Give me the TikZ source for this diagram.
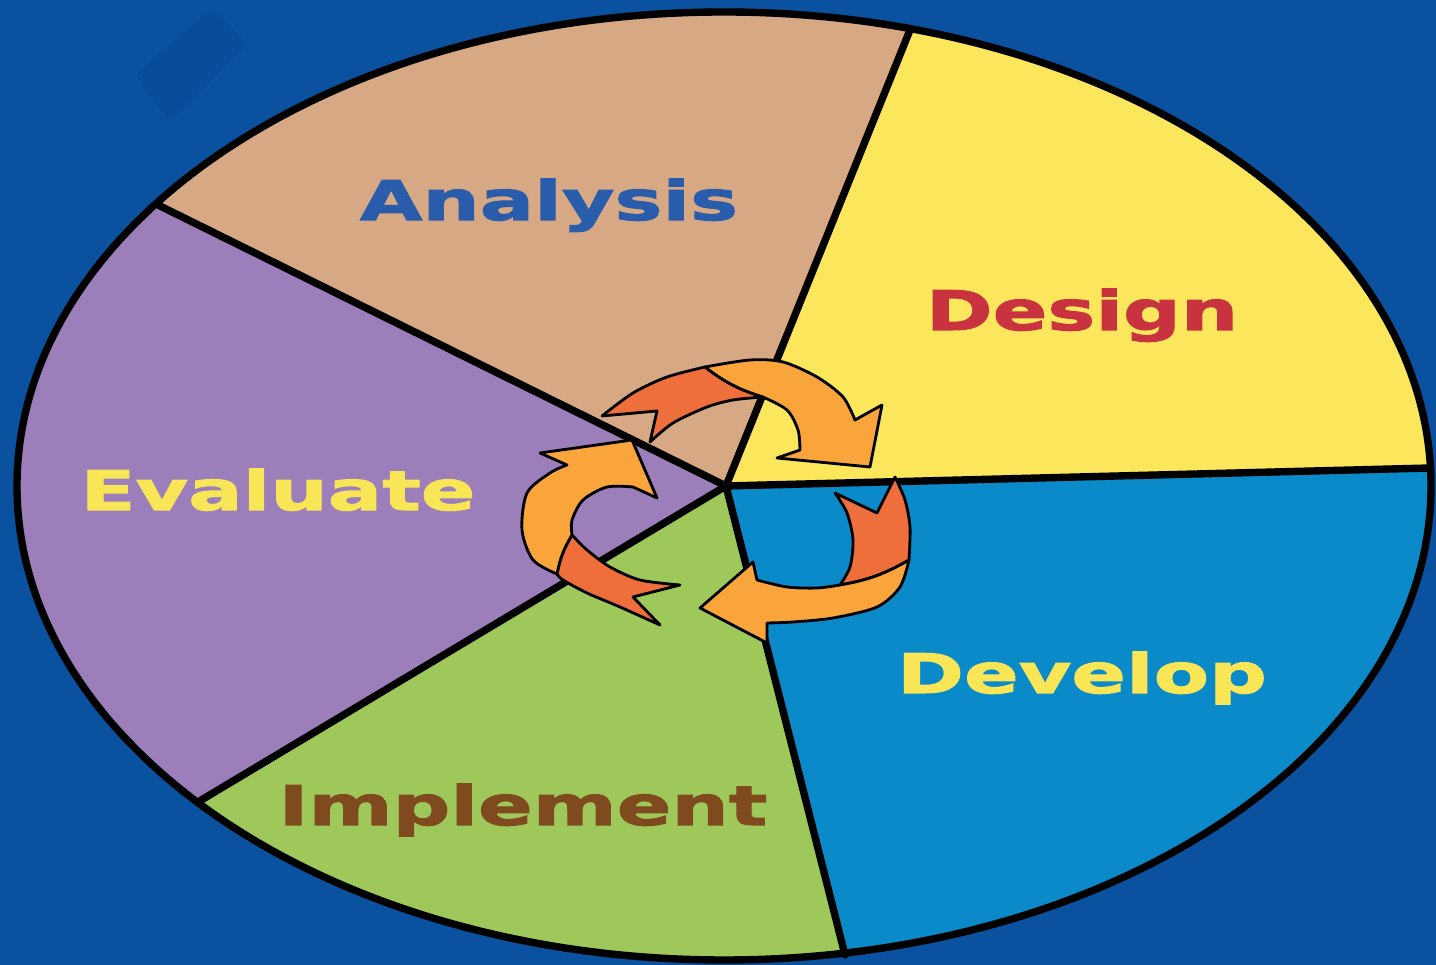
\documentclass[tikz,border=0pt]{standalone}
\usepackage{fontspec}
\usetikzlibrary{calc}
\newfontfamily\phasefont[FakeStretch=1.48,FakeBold=2]{DejaVu Sans}
\definecolor{bgblue}{RGB}{10,82,160}
\definecolor{bgshade}{RGB}{8,77,153}
\definecolor{tan}{RGB}{214,168,131}
\definecolor{sun}{RGB}{252,231,92}
\definecolor{sky}{RGB}{10,138,201}
\definecolor{leaf}{RGB}{159,200,90}
\definecolor{lilac}{RGB}{155,126,186}
\definecolor{inkblue}{RGB}{42,92,172}
\definecolor{inkred}{RGB}{201,50,63}
\definecolor{inkyellow}{RGB}{248,230,86}
\definecolor{inkbrown}{RGB}{126,74,30}
\definecolor{arrowgold}{RGB}{249,165,60}
\definecolor{arrowred}{RGB}{238,110,60}

\begin{document}
\begin{tikzpicture}[x=0.01cm,y=-0.01cm]
	\tikzstyle{Phase}=[font=\phasefont\bfseries\fontsize{15.5}{18}\selectfont,anchor=base,inner sep=0pt]
	\tikzstyle{Divider}=[line width=2.1pt]
	\tikzstyle{TailPart}=[fill=arrowred,draw=black,line width=0.8pt,line join=round]
	\tikzstyle{HeadPart}=[fill=arrowgold,draw=black,line width=0.8pt,line join=round]
	\useasboundingbox (0,0) rectangle (1436,965);
	\fill[bgblue] (0,0) rectangle (1436,965);
	\fill[bgshade] (135,75) -- (212,8) -- (246,44) -- (170,122) -- cycle;
	\coordinate (C) at (726,486);
	\coordinate (Ptop) at (910,30);
	\coordinate (Pright) at (1430,468);
	\coordinate (Pbottom) at (845,955);
	\coordinate (Pbl) at (198,802);
	\coordinate (Ptl) at (158,205);
	\begin{scope}
		\clip (724,486) ellipse [x radius=707, y radius=474];
		\fill[tan] (C) -- ($(C)!1.5!(Ptl)$) -- (-200,-200) -- ($(C)!1.5!(Ptop)$) -- cycle;
		\fill[sun] (C) -- ($(C)!1.5!(Ptop)$) -- (1800,-200) -- ($(C)!1.5!(Pright)$) -- cycle;
		\fill[sky] (C) -- ($(C)!1.5!(Pright)$) -- (1800,1200) -- ($(C)!1.5!(Pbottom)$) -- cycle;
		\fill[leaf] (C) -- ($(C)!1.5!(Pbottom)$) -- (-200,1200) -- ($(C)!1.5!(Pbl)$) -- cycle;
		\fill[lilac] (C) -- ($(C)!1.5!(Pbl)$) -- (-200,1200) -- (-200,-200) -- ($(C)!1.5!(Ptl)$) -- cycle;
	\end{scope}
	\foreach \p in {Ptop,Pright,Pbottom,Pbl,Ptl}
		\draw[Divider,line cap=round] (C) -- (\p);
	\draw[Divider] (724,486) ellipse [x radius=707, y radius=474];
	\node[Phase,text=inkblue] (analysis) at (549,220) {Analysis};
	\node[Phase,text=inkred] (design) at (1082,330) {Design};
	\node[Phase,text=inkyellow] (develop) at (1082,693) {Develop};
	\node[Phase,text=inkbrown] (implement) at (523,825) {Implement};
	\node[Phase,text=inkyellow] (evaluate) at (278,510) {Evaluate};
	\filldraw[TailPart] plot[smooth] coordinates {(602,416) (633,393) (667,377) (705,367)} to[bend right=10] (763,397) -- plot[smooth] coordinates {(763,397) (733,400) (707,407) (673,423) (650,442)} -- (657,411) -- cycle;
	\filldraw[HeadPart] plot[smooth] coordinates {(705,367) (750,360) (783,362) (817,377) (843,397) (855,420)} -- (882,405) -- (870,467) -- (777,458) -- plot[smooth] coordinates {(800,450) (798,430) (787,410) (763,397)} to[bend left=10] (705,367) -- cycle;
	\filldraw[TailPart] (835,493) -- (877,513) -- (895,477) -- plot[smooth] coordinates {(895,477) (905,500) (910,527) (909,560)} to[bend left=10] (840,585) -- plot[smooth] coordinates {(840,585) (850,567) (853,540) (847,513) (835,493)} -- cycle;
	\filldraw[HeadPart] plot[smooth] coordinates {(909,560) (900,587) (877,607) (833,618) (793,622) (767,623)} -- (767,643) -- (700,608) -- (753,562) -- plot[smooth] coordinates {(757,580) (787,587) (817,588) (840,585)} to[bend right=10] (909,560) -- cycle;
	\filldraw[TailPart] (680,585) -- (633,597) -- (660,625) -- plot[smooth] coordinates {(660,625) (620,607) (587,593) (563,580) (557,574)} to[bend left=10] (572,535) -- plot[smooth] coordinates {(572,535) (587,550) (610,567) (640,580) (680,585)} -- cycle;
	\filldraw[HeadPart] plot[smooth] coordinates {(557,574) (533,560) (522,530) (527,493) (550,473) (567,465)} -- (540,453) -- (632,440) -- (657,498) -- plot[smooth] coordinates {(633,487) (607,487) (583,500) (572,520) (572,535)} to[bend right=10] (557,574) -- cycle;
\end{tikzpicture}
\end{document}
